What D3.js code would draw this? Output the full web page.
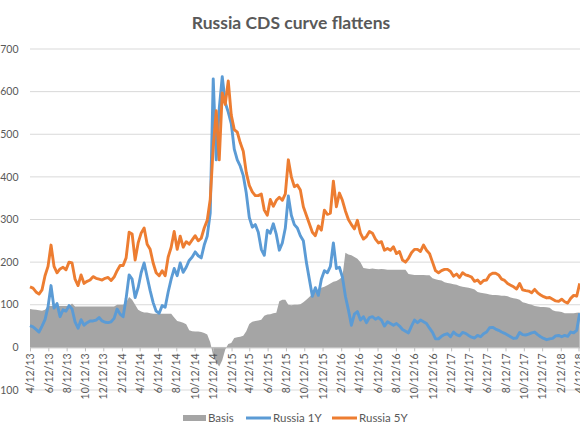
<!DOCTYPE html>
<html>
<head>
<meta charset="utf-8">
<script src="https://cdn.jsdelivr.net/npm/d3@7"></script>
<style>
  html, body { margin: 0; padding: 0; background: #fff; }
  svg { display: block; font-family: Lato, "Open Sans", sans-serif; }
</style>
</head>
<body>
<svg id="chart" width="580" height="435"></svg>
<script>
// ---- data, one point every 10 days from 2013-04-12 ----
const startDate = "2013-04-12";
const stepDays = 10;

const russia5Y = [
  142,139,130,125,135,168,190,240,190,175, 184,188,182,200,198,160,145,170,150,155,
  158,166,162,160,158,162,164,157,165,180, 192,192,210,270,266,205,245,268,280,242,
  230,198,175,168,180,168,212,235,272,230, 261,235,248,242,252,262,250,256,280,298,
  347,470,555,440,597,570,625,545,511,505, 480,460,410,380,365,356,356,360,322,310,
  347,331,345,352,345,360,440,400,377,381, 369,330,310,290,270,262,285,275,322,312,
  315,390,330,362,345,320,300,288,278,298, 268,254,260,272,268,254,245,248,228,232,
  228,236,220,225,205,200,209,222,230,230, 225,240,228,220,200,180,175,180,183,183,
  178,167,172,164,175,170,168,165,155,158, 150,157,158,170,174,174,170,160,157,150,
  146,142,137,150,135,133,132,128,136,128, 123,119,116,117,113,109,108,113,107,104,
  115,122,120,150
];

const russia1Y = [
   51, 48, 42, 36, 50, 65, 95,145, 92,103,  72, 88, 85, 98, 90, 60, 45, 65, 52, 58,
   62, 62, 64, 70, 62, 59, 58, 60, 68, 90,  78, 72,115,170,160,117,140,175,198,165,
  133,105, 85, 80, 98, 94,130,160,185,168, 198,176,188,204,212,224,215,210,240,261,
  315,630,440,560,635,574,552,525,465,440, 425,403,362,305,282,288,270,230,216,275,
  268,290,265,228,245,280,355,310,288,280, 262,250,200,160,120,140,122,160,180,175,
  190,245,185,188,165,120, 88, 52, 78, 84,  64, 72, 58, 70, 72, 66, 70, 64, 50, 60,
   56, 52, 56, 50, 42, 38, 34, 50, 64, 58,  64, 60, 56, 45, 35, 20, 20, 26, 30, 32,
   25, 36, 30, 27, 35, 33, 28, 24, 22, 28,  25, 32, 36, 46, 47, 43, 40, 36, 33, 29,
   25, 21, 22, 35, 30, 29, 31, 34, 36, 30,  25, 21, 18, 20, 21, 27, 28, 25, 28, 26,
   36, 34, 40, 80
];

const basis = [
   90, 89, 88, 87, 86, 88, 97, 97, 97, 97,  97, 97, 97, 97,103, 96, 96, 96, 96, 96,
   96, 96, 96, 96, 96, 96, 96, 96, 96,100, 100,100,105,118,112,100, 88, 84, 82, 82,
   80, 79, 79, 79, 79, 79, 79, 79, 70, 62,  60, 58, 54, 40, 38, 37, 37, 36, 34, 30,
   12,-20,-35,-45,-30, -5,  8, 10, 22, 24,  25, 27, 38, 55, 60, 62, 63, 65, 74, 77,
   78, 80, 81,108,112,112,100, 99,100,100, 101,106,112,118,125,132,136,140,142,146,
  150,154,156,160,166,222,218,216,212,208, 200,186,185,184,185,184,183,184,183,182,
  182,182,182,182,182,182,172,171,170,170, 170,170,169,169,162,160,158,157,153,151,
  150,148,147,144,142,141,140,138,136,130, 128,127,126,124,123,123,122,121,121,120,
  117,115,114,112,106,104,102,100, 97, 96,  95, 95, 94, 93, 87, 85, 84, 83, 80, 80,
   80, 80, 81, 82
];

const yTicks = [-100, 0, 100, 200, 300, 400, 500, 600, 700];
const xTickStart = "2013-04-12";
const xTickCount = 31;           // every 2 months, 4/12/13 ... 4/12/18
const seriesNames = ["Basis", "Russia 1Y", "Russia 5Y"];
const title = "Russia CDS curve flattens";

// ---- drawing ----
const colors = { basis: "#A5A5A5", y1: "#5B9BD5", y5: "#ED7D31" };
const parse = d3.timeParse("%Y-%m-%d");
const t0 = parse(startDate);
const dates = basis.map((_, i) => d3.timeDay.offset(t0, i * stepDays));

const svg = d3.select("#chart");
const x = d3.scaleTime()
  .domain([parse("2013-04-12"), parse("2018-04-12")])
  .range([30, 578.5]);
const y = d3.scaleLinear().domain([-100, 700]).range([390, 49]);

// title
svg.append("text")
  .attr("x", 291).attr("y", 29)
  .attr("text-anchor", "middle")
  .attr("font-size", 17.5).attr("font-weight", 700)
  .attr("fill", "#595959")
  .text(title);

// gridlines + y labels
const grid = svg.append("g");
yTicks.forEach(v => {
  grid.append("line")
    .attr("x1", 30).attr("x2", 580)
    .attr("y1", y(v)).attr("y2", y(v))
    .attr("stroke", "#d9d9d9").attr("stroke-width", 1);
  grid.append("text")
    .attr("x", 18.5).attr("y", y(v)).attr("dy", "0.35em")
    .attr("text-anchor", "end")
    .attr("font-size", 10.5).attr("fill", "#595959")
    .text(v);
});

// basis area
const area = d3.area()
  .x((d, i) => x(dates[i]))
  .y0(y(0))
  .y1(d => y(d));
svg.append("path")
  .datum(basis)
  .attr("d", area)
  .attr("fill", colors.basis);

// x axis
const tickDates = d3.range(xTickCount).map(k => d3.timeMonth.offset(parse(xTickStart), 2 * k));
const fmt = d3.timeFormat("%-m/%-d/%y");
const xAxis = d3.axisBottom(x)
  .tickValues(tickDates)
  .tickFormat(fmt)
  .tickSizeOuter(0)
  .tickSizeInner(4);
const gx = svg.append("g")
  .attr("transform", `translate(0,${y(0)})`)
  .call(xAxis);
gx.select(".domain").attr("stroke", "#bfbfbf").attr("d", `M30,0.5H580`);
gx.selectAll(".tick line").attr("stroke", "#bfbfbf");
gx.selectAll(".tick text")
  .attr("font-family", "Lato, 'Open Sans', sans-serif")
  .attr("font-size", 10.5)
  .attr("fill", "#595959")
  .attr("text-anchor", "end")
  .attr("transform", "rotate(-90)")
  .attr("x", -6)
  .attr("y", 0)
  .attr("dy", "0.35em");

// lines
const line = d3.line()
  .x((d, i) => x(dates[i]))
  .y(d => y(d))
  .curve(d3.curveLinear);
svg.append("path")
  .datum(russia1Y)
  .attr("d", line)
  .attr("fill", "none")
  .attr("stroke", colors.y1)
  .attr("stroke-width", 2.9)
  .attr("stroke-linejoin", "round");
svg.append("path")
  .datum(russia5Y)
  .attr("d", line)
  .attr("fill", "none")
  .attr("stroke", colors.y5)
  .attr("stroke-width", 2.9)
  .attr("stroke-linejoin", "round");

// legend
const lg = svg.append("g").attr("font-size", 11.5).attr("fill", "#595959");
lg.append("rect").attr("x", 183).attr("y", 415).attr("width", 23).attr("height", 6).attr("fill", colors.basis);
lg.append("text").attr("x", 208).attr("y", 418).attr("dy", "0.35em").text(seriesNames[0]);
lg.append("line").attr("x1", 246).attr("x2", 271).attr("y1", 418).attr("y2", 418)
  .attr("stroke", colors.y1).attr("stroke-width", 3);
lg.append("text").attr("x", 273).attr("y", 418).attr("dy", "0.35em").text(seriesNames[1]);
lg.append("line").attr("x1", 332).attr("x2", 357).attr("y1", 418).attr("y2", 418)
  .attr("stroke", colors.y5).attr("stroke-width", 3);
lg.append("text").attr("x", 359).attr("y", 418).attr("dy", "0.35em").text(seriesNames[2]);
</script>
</body>
</html>
